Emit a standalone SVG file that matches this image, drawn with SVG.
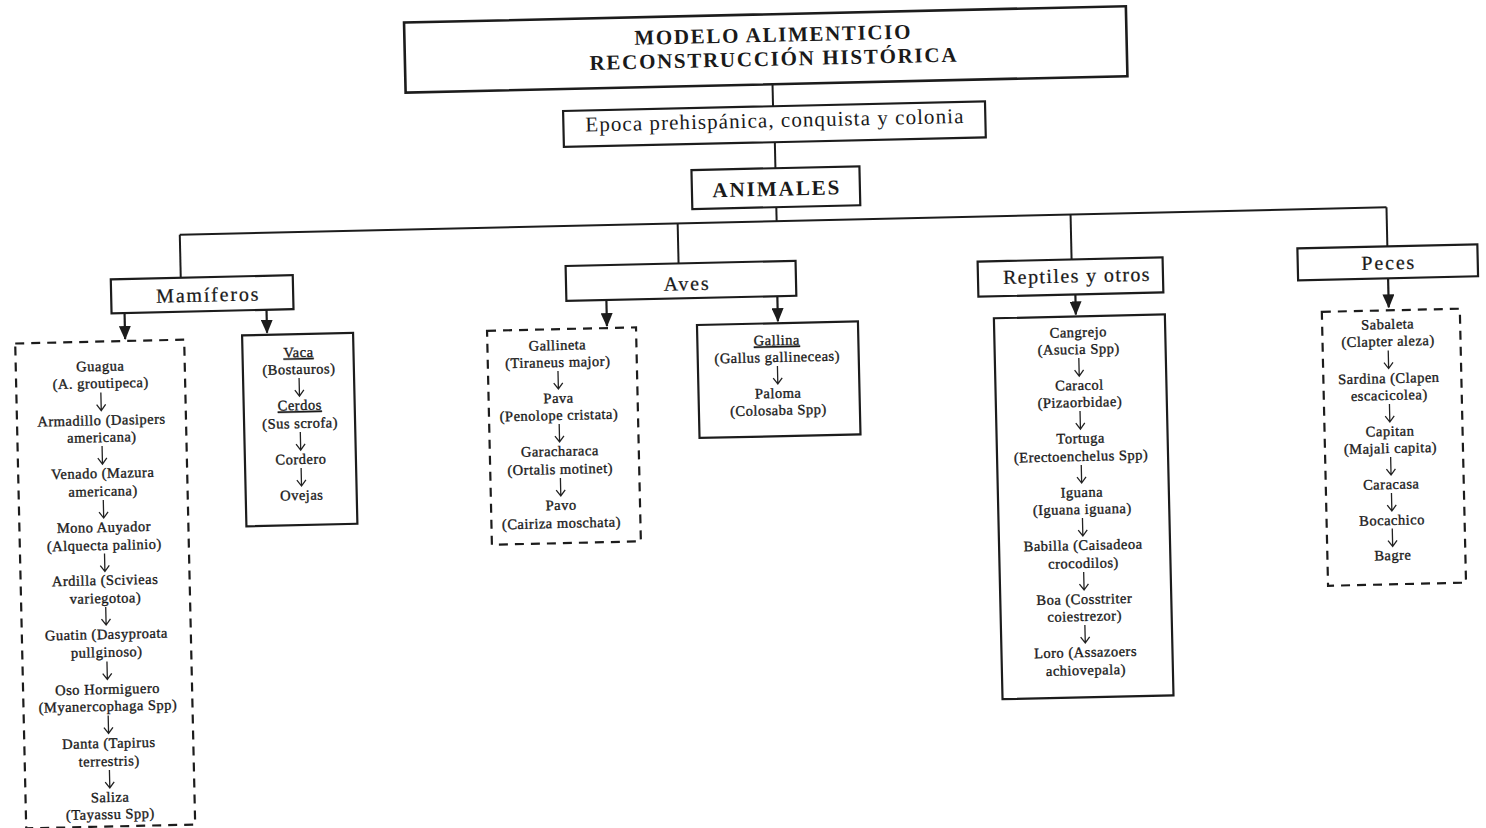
<svg xmlns="http://www.w3.org/2000/svg" xmlns:xlink="http://www.w3.org/1999/xlink" width="1486" height="828" viewBox="0 0 1486 828">
<style>
.box{fill:#fff;stroke:#1c1c1c;stroke-width:2.2}
.dbox{fill:none;stroke:#1c1c1c;stroke-width:2.2;stroke-dasharray:9 7}
.con{fill:none;stroke:#1c1c1c;stroke-width:2}
.arr{fill:none;stroke:#1c1c1c;stroke-width:2.2}
.da{fill:none;stroke:#222;stroke-width:1.3}
.t{font-family:"Liberation Serif","Times New Roman",serif;fill:#1a1a1a;text-anchor:middle}
.title{font-size:21px;font-weight:bold}
.cat{font-size:20px;letter-spacing:1.8px;stroke:#1a1a1a;stroke-width:0.25}
.li{font-size:14.5px;letter-spacing:0.5px;stroke:#1a1a1a;stroke-width:0.35}
.u{text-decoration:underline}
</style>
<defs>
<marker id="ah" viewBox="0 0 14 12" refX="13" refY="6" markerWidth="14" markerHeight="12" markerUnits="userSpaceOnUse" orient="auto">
<path d="M0,0 L14,6 L0,12 z" fill="#1c1c1c"/>
</marker>
<path id="da" d="M0,-9 V9 M-4.5,3 L0,9 L4.5,3"/>
</defs>
<rect width="1486" height="828" fill="#fff"/>
<g transform="rotate(-1.3 743 414)">
<g id="connectors">
<path class="con" d="M780,85 V107"/>
<path class="con" d="M781,143 V169"/>
<path class="con" d="M781,208 V222"/>
<path class="con" d="M184,222 H1391"/>
<path class="con" d="M184,222 V265"/>
<path class="con" d="M682,222 V262"/>
<path class="con" d="M1075,222 V267"/>
<path class="con" d="M1391,222 V261"/>
<path class="arr" d="M127,299 V325" marker-end="url(#ah)"/>
<path class="arr" d="M269,299 V322" marker-end="url(#ah)"/>
<path class="arr" d="M609,297 V323" marker-end="url(#ah)"/>
<path class="arr" d="M780,297 V322" marker-end="url(#ah)"/>
<path class="arr" d="M1078,302 V322" marker-end="url(#ah)"/>
<path class="arr" d="M1391,293 V322" marker-end="url(#ah)"/>
</g>
<g id="n-title">
<rect class="box" x="413" y="15" width="722" height="70" style="stroke-width:2.6"/>
<text class="t title" x="781" y="42.5" textLength="276" lengthAdjust="spacing">MODELO ALIMENTICIO</text>
<text class="t title" x="781" y="66.5" textLength="367" lengthAdjust="spacing">RECONSTRUCCIÓN HISTÓRICA</text>
</g>
<g id="n-epoca">
<rect class="box" x="570" y="107" width="422" height="36"/>
<text class="t" x="781" y="128" style="font-size:21px" textLength="378" lengthAdjust="spacing">Epoca prehispánica, conquista y colonia</text>
</g>
<g id="n-animales">
<rect class="box" x="697" y="169" width="168" height="39"/>
<text class="t title" x="781" y="196.5" textLength="127" lengthAdjust="spacing">ANIMALES</text>
</g>
<g id="n-mamiferos">
<rect class="box" x="114" y="265" width="182" height="34"/>
<text class="t cat" x="211" y="289.5">Mamíferos</text>
</g>
<g id="n-aves">
<rect class="box" x="569" y="262" width="230" height="35"/>
<text class="t cat" x="690" y="289">Aves</text>
</g>
<g id="n-reptiles">
<rect class="box" x="981" y="267" width="185" height="35"/>
<text class="t cat" x="1080" y="290" style="letter-spacing:1.4px">Reptiles y otros</text>
</g>
<g id="n-peces">
<rect class="box" x="1301" y="261" width="180" height="32"/>
<text class="t cat" x="1392" y="284">Peces</text>
</g>
<g id="n-mam-list">
<rect class="dbox" x="17" y="327" width="169" height="485"/>
<g class="t li">
<text x="101.5" y="356.5">Guagua</text>
<text x="101.5" y="373.5">(A. groutipeca)</text>
<text x="101.5" y="410.5">Armadillo (Dasipers</text>
<text x="101.5" y="427.5">americana)</text>
<text x="101.5" y="463.5">Venado (Mazura</text>
<text x="101.5" y="481.5">americana)</text>
<text x="101.5" y="517.5">Mono Auyador</text>
<text x="101.5" y="535.5">(Alquecta palinio)</text>
<text x="101.5" y="570.5">Ardilla (Scivieas</text>
<text x="101.5" y="588.5">variegotoa)</text>
<text x="101.5" y="624.5">Guatin (Dasyproata</text>
<text x="101.5" y="642.5">pullginoso)</text>
<text x="101.5" y="679.5">Oso Hormiguero</text>
<text x="101.5" y="696.5">(Myanercophaga Spp)</text>
<text x="101.5" y="733.5">Danta (Tapirus</text>
<text x="101.5" y="751.5">terrestris)</text>
<text x="101.5" y="787.5">Saliza</text>
<text x="101.5" y="804.5">(Tayassu Spp)</text>
</g>
<g class="da">
<use xlink:href="#da" x="101.5" y="387"/>
<use xlink:href="#da" x="101.5" y="440.5"/>
<use xlink:href="#da" x="101.5" y="494.5"/>
<use xlink:href="#da" x="101.5" y="548"/>
<use xlink:href="#da" x="101.5" y="601.5"/>
<use xlink:href="#da" x="101.5" y="656"/>
<use xlink:href="#da" x="101.5" y="710"/>
<use xlink:href="#da" x="101.5" y="764.5"/>
</g>
</g>
<g id="n-vaca-list">
<rect class="box" x="244" y="324" width="111" height="191"/>
<g class="t li">
<text class="u" x="300" y="347">Vaca</text>
<text x="300" y="364">(Bostauros)</text>
<text class="u" x="300" y="400">Cerdos</text>
<text x="300" y="418">(Sus scrofa)</text>
<text x="300" y="454">Cordero</text>
<text x="300" y="490">Ovejas</text>
</g>
<g class="da">
<use xlink:href="#da" x="300" y="377"/>
<use xlink:href="#da" x="300" y="431"/>
<use xlink:href="#da" x="300" y="467"/>
</g>
</g>
<g id="n-aves-list">
<rect class="dbox" x="489" y="325" width="149" height="214"/>
<g class="t li">
<text x="559" y="345.8">Gallineta</text>
<text x="559" y="362.8">(Tiraneus major)</text>
<text x="559" y="398.8">Pava</text>
<text x="559" y="415.8">(Penolope cristata)</text>
<text x="559" y="451.8">Garacharaca</text>
<text x="559" y="469.8">(Ortalis motinet)</text>
<text x="559" y="505.8">Pavo</text>
<text x="559" y="523.8">(Cairiza moschata)</text>
</g>
<g class="da">
<use xlink:href="#da" x="559" y="375.8"/>
<use xlink:href="#da" x="559" y="428.8"/>
<use xlink:href="#da" x="559" y="482.8"/>
</g>
</g>
<g id="n-gallina-list">
<rect class="box" x="699" y="324" width="161" height="113"/>
<g class="t li">
<text class="u" x="778.5" y="345.8">Gallina</text>
<text x="778.5" y="362.8">(Gallus gallineceas)</text>
<text x="778.5" y="398.8">Paloma</text>
<text x="778.5" y="415.8">(Colosaba Spp)</text>
</g>
<g class="da">
<use xlink:href="#da" x="778.5" y="375.8"/>
</g>
</g>
<g id="n-rep-list">
<rect class="box" x="996" y="324" width="171" height="381"/>
<g class="t li">
<text x="1080" y="344.7">Cangrejo</text>
<text x="1080" y="361.7">(Asucia Spp)</text>
<text x="1080" y="397.7">Caracol</text>
<text x="1080" y="414.7">(Pizaorbidae)</text>
<text x="1080" y="450.7">Tortuga</text>
<text x="1080" y="468.7">(Erectoenchelus Spp)</text>
<text x="1080" y="504.7">Iguana</text>
<text x="1080" y="521.7">(Iguana iguana)</text>
<text x="1080" y="557.7">Babilla (Caisadeoa</text>
<text x="1080" y="575.7">crocodilos)</text>
<text x="1080" y="611.7">Boa (Cosstriter</text>
<text x="1080" y="628.7">coiestrezor)</text>
<text x="1080" y="664.7">Loro (Assazoers</text>
<text x="1080" y="682.7">achiovepala)</text>
</g>
<g class="da">
<use xlink:href="#da" x="1080" y="374.7"/>
<use xlink:href="#da" x="1080" y="427.7"/>
<use xlink:href="#da" x="1080" y="481.7"/>
<use xlink:href="#da" x="1080" y="534.7"/>
<use xlink:href="#da" x="1080" y="588.7"/>
<use xlink:href="#da" x="1080" y="641.7"/>
</g>
</g>
<g id="n-peces-list">
<rect class="dbox" x="1324" y="325" width="138" height="274"/>
<g class="t li">
<text x="1389.5" y="343.7">Sabaleta</text>
<text x="1389.5" y="360.7">(Clapter aleza)</text>
<text x="1389.5" y="397.7">Sardina (Clapen</text>
<text x="1389.5" y="414.7">escacicolea)</text>
<text x="1389.5" y="450.7">Capitan</text>
<text x="1389.5" y="467.7">(Majali capita)</text>
<text x="1389.5" y="503.7">Caracasa</text>
<text x="1389.5" y="539.7">Bocachico</text>
<text x="1389.5" y="574.7">Bagre</text>
</g>
<g class="da">
<use xlink:href="#da" x="1389.5" y="374.2"/>
<use xlink:href="#da" x="1389.5" y="427.7"/>
<use xlink:href="#da" x="1389.5" y="480.7"/>
<use xlink:href="#da" x="1389.5" y="516.7"/>
<use xlink:href="#da" x="1389.5" y="552.2"/>
</g>
</g>
</g>
</svg>
